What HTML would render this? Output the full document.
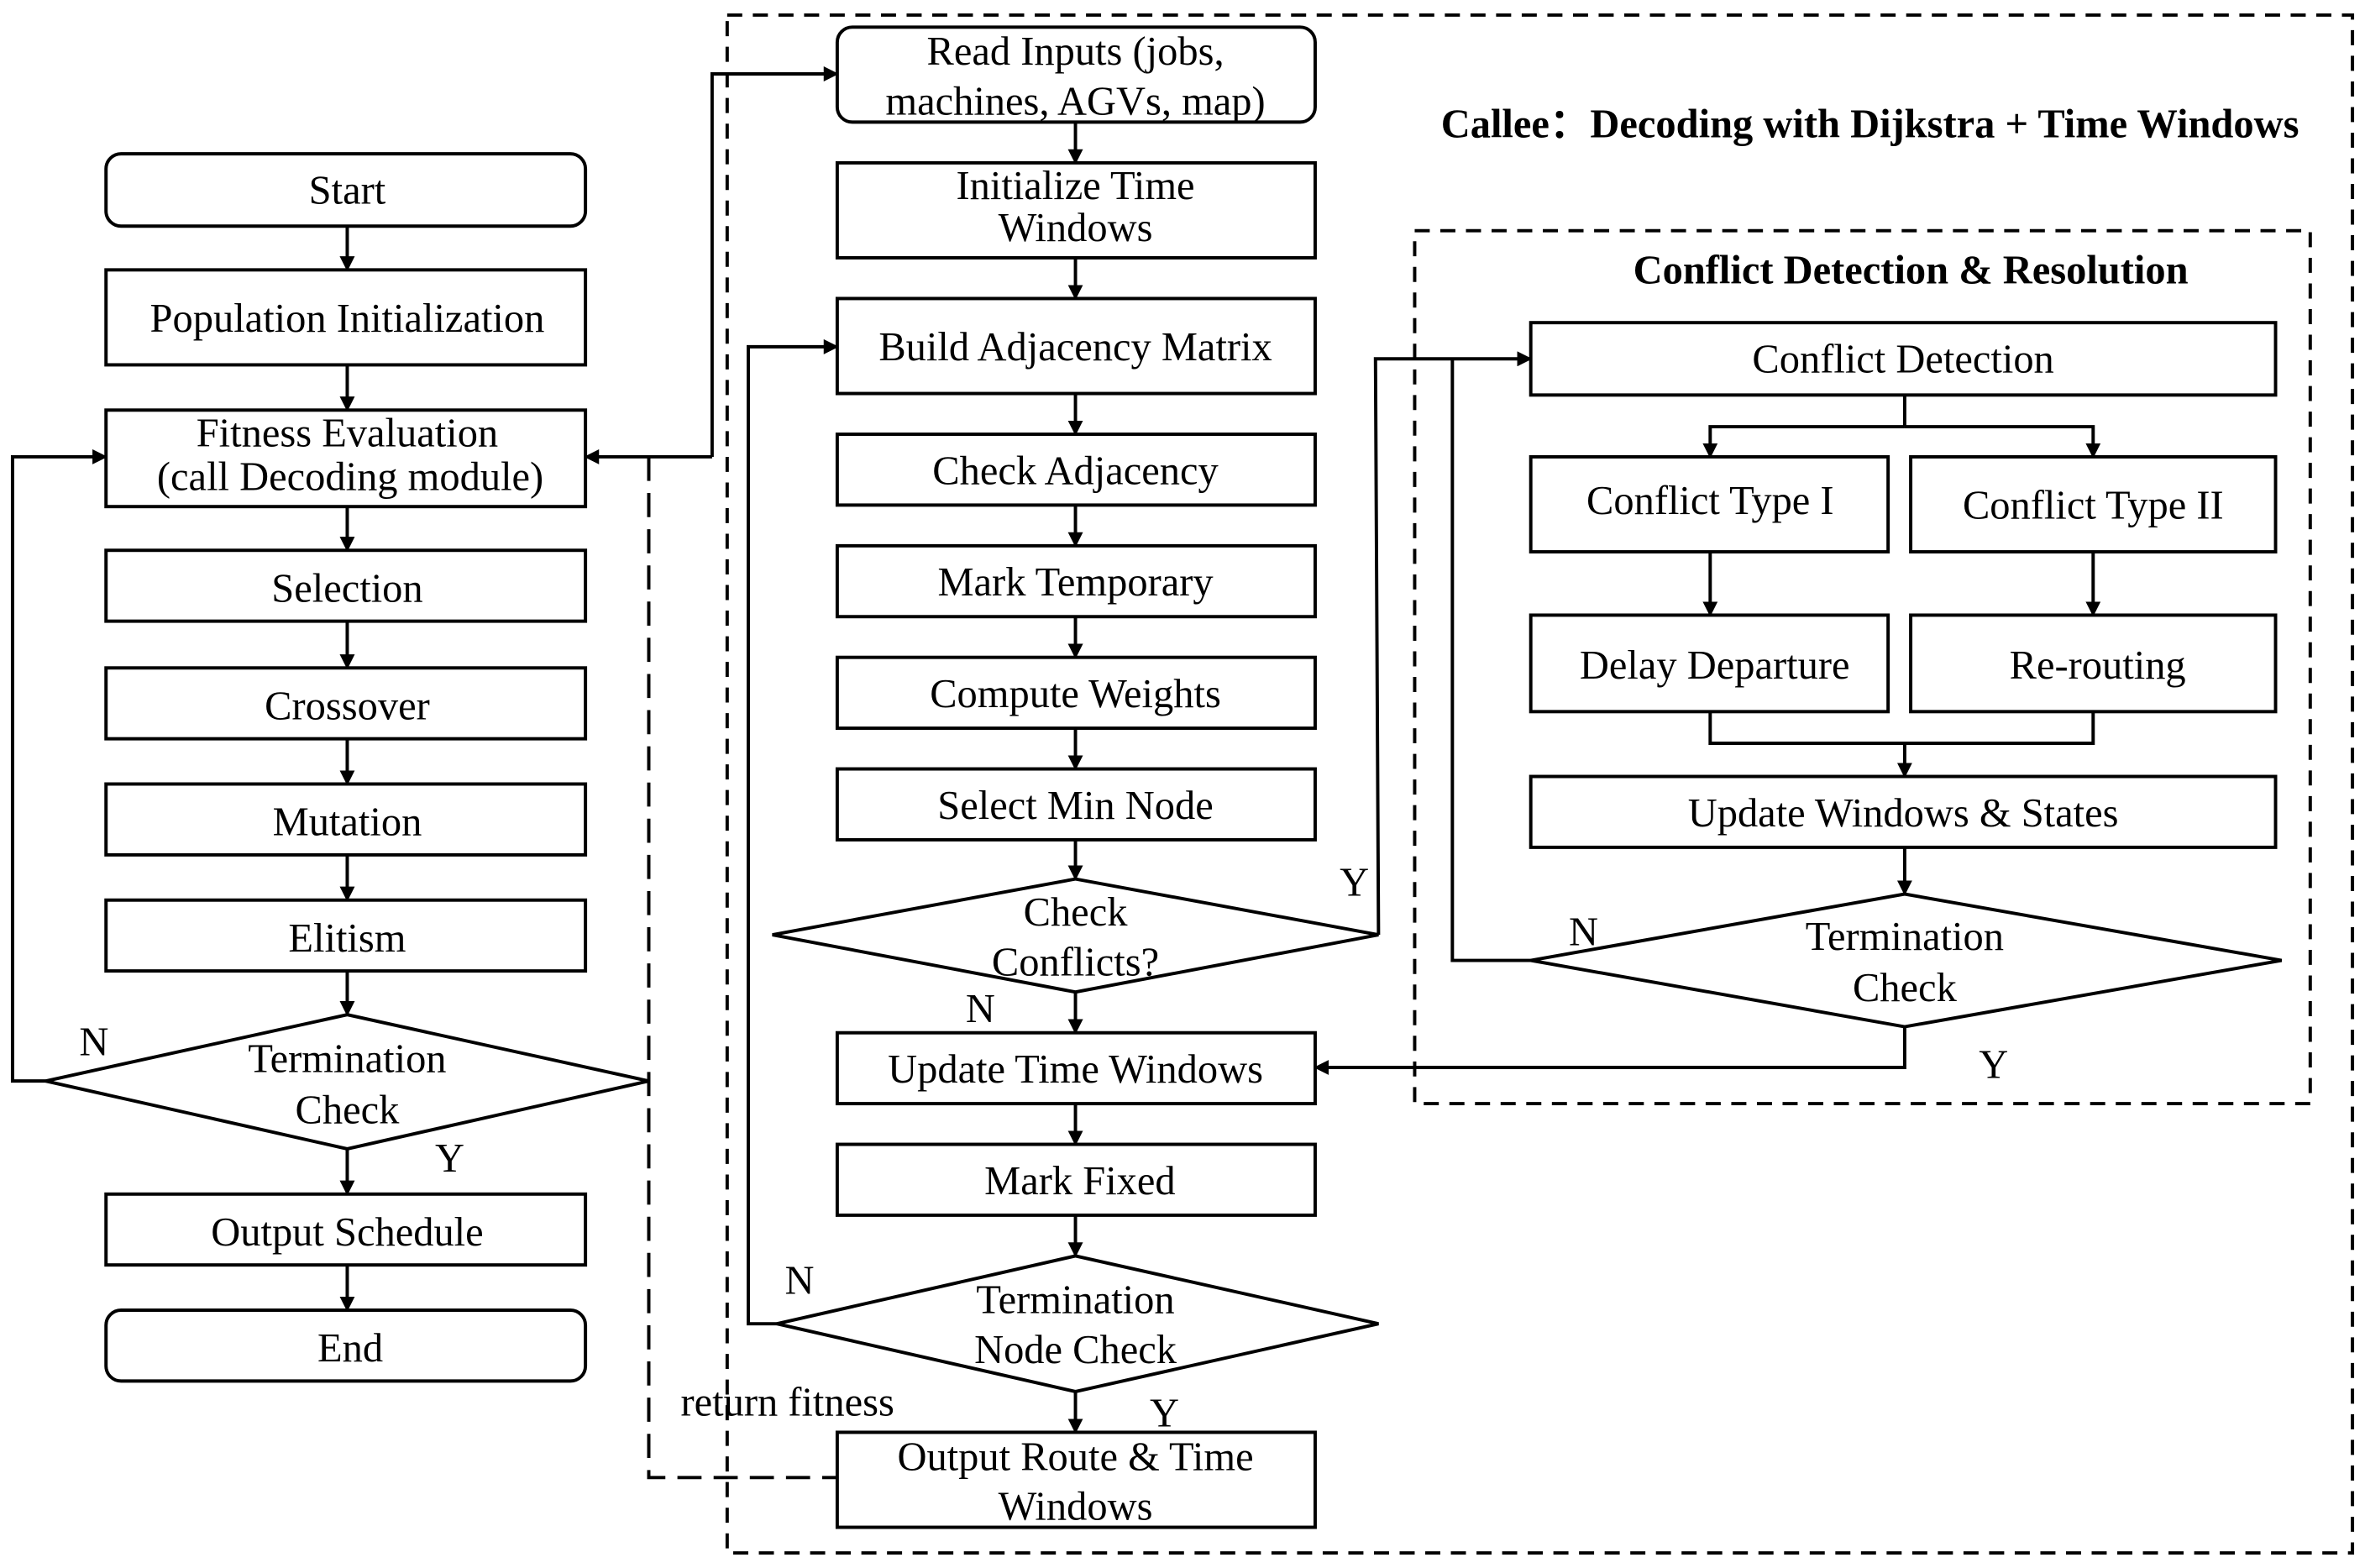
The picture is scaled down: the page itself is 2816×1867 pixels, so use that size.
<!DOCTYPE html>
<html><head><meta charset="utf-8"><style>
html,body{margin:0;padding:0;background:#fff;}
svg{display:block;}
text{font-family:"Liberation Serif","DejaVu Serif",serif;font-size:27px;fill:#000;text-anchor:middle;}
.b{font-weight:bold;font-size:27px;}
</style></head><body>
<svg width="2816" height="1867" viewBox="0 0 1568 1040" xmlns="http://www.w3.org/2000/svg" font-family="Liberation Serif, serif">
<defs><marker id="a" markerWidth="10" markerHeight="10" refX="9" refY="5" orient="auto" markerUnits="userSpaceOnUse"><path d="M0,0 L10,5 L0,10 z" fill="#000"/></marker></defs>
<g fill="none" stroke="#000" stroke-width="2.2">
<rect x="482" y="10" width="1078" height="1020" stroke-dasharray="10,7"/>
<rect x="938" y="153" width="594" height="579" stroke-dasharray="10,7"/>
<rect x="70" y="102" width="318" height="48" rx="10"/>
<rect x="70" y="179" width="318" height="63"/>
<rect x="70" y="272" width="318" height="64"/>
<rect x="70" y="365" width="318" height="47"/>
<rect x="70" y="443" width="318" height="47"/>
<rect x="70" y="520" width="318" height="47"/>
<rect x="70" y="597" width="318" height="47"/>
<polygon points="30,717 230,673 430,717 230,762"/>
<rect x="70" y="792" width="318" height="47"/>
<rect x="70" y="869" width="318" height="47" rx="10"/>
<g marker-end="url(#a)">
<line x1="230" y1="150" x2="230" y2="179"/>
<line x1="230" y1="242" x2="230" y2="272"/>
<line x1="230" y1="336" x2="230" y2="365"/>
<line x1="230" y1="412" x2="230" y2="443"/>
<line x1="230" y1="490" x2="230" y2="520"/>
<line x1="230" y1="567" x2="230" y2="597"/>
<line x1="230" y1="644" x2="230" y2="673"/>
<line x1="230" y1="762" x2="230" y2="792"/>
<line x1="230" y1="839" x2="230" y2="869"/>
<polyline points="30,717 8,717 8,303 70,303"/>
<line x1="472" y1="303" x2="388" y2="303"/>
<polyline points="472,303 472,49 555,49"/>
</g>
<polyline points="430,303 430,980 555,980" stroke-dasharray="16,8"/>
<rect x="555" y="18" width="317" height="63" rx="10"/>
<rect x="555" y="108" width="317" height="63"/>
<rect x="555" y="198" width="317" height="63"/>
<rect x="555" y="288" width="317" height="47"/>
<rect x="555" y="362" width="317" height="47"/>
<rect x="555" y="436" width="317" height="47"/>
<rect x="555" y="510" width="317" height="47"/>
<polygon points="512,620 713,583 914,620 713,658"/>
<rect x="555" y="685" width="317" height="47"/>
<rect x="555" y="759" width="317" height="47"/>
<polygon points="515,878 713,833 914,878 713,923"/>
<rect x="555" y="950" width="317" height="63"/>
<g marker-end="url(#a)">
<line x1="713" y1="81" x2="713" y2="108"/>
<line x1="713" y1="171" x2="713" y2="198"/>
<line x1="713" y1="261" x2="713" y2="288"/>
<line x1="713" y1="335" x2="713" y2="362"/>
<line x1="713" y1="409" x2="713" y2="436"/>
<line x1="713" y1="483" x2="713" y2="510"/>
<line x1="713" y1="557" x2="713" y2="583"/>
<line x1="713" y1="658" x2="713" y2="685"/>
<line x1="713" y1="732" x2="713" y2="759"/>
<line x1="713" y1="806" x2="713" y2="833"/>
<line x1="713" y1="923" x2="713" y2="950"/>
<polyline points="515,878 496,878 496,230 555,230"/>
<polyline points="914,620 912,238 1015,238"/>
</g>
<rect x="1015" y="214" width="494" height="48"/>
<rect x="1015" y="303" width="237" height="63"/>
<rect x="1267" y="303" width="242" height="63"/>
<rect x="1015" y="408" width="237" height="64"/>
<rect x="1267" y="408" width="242" height="64"/>
<rect x="1015" y="515" width="494" height="47"/>
<polygon points="1015,637 1263,593 1513,637 1263,681"/>
<polyline points="1263,262 1263,283"/>
<polyline points="1134,472 1134,493 1388,493 1388,472"/>
<g marker-end="url(#a)">
<polyline points="1263,283 1134,283 1134,303"/>
<polyline points="1263,283 1388,283 1388,303"/>
<line x1="1134" y1="366" x2="1134" y2="408"/>
<line x1="1388" y1="366" x2="1388" y2="408"/>
<line x1="1263" y1="493" x2="1263" y2="515"/>
<line x1="1263" y1="562" x2="1263" y2="593"/>
<polyline points="1263,681 1263,708 872,708"/>
</g>
<polyline points="1015,637 963,637 963,238"/>
</g>
<text x="230" y="135">Start</text>
<text x="230" y="220">Population Initialization</text>
<text x="230" y="296">Fitness Evaluation</text>
<text x="232" y="325">(call Decoding module)</text>
<text x="230" y="399">Selection</text>
<text x="230" y="477">Crossover</text>
<text x="230" y="554">Mutation</text>
<text x="230" y="631">Elitism</text>
<text x="230" y="711">Termination</text>
<text x="230" y="745">Check</text>
<text x="230" y="826">Output Schedule</text>
<text x="232" y="903">End</text>
<text x="62" y="700">N</text>
<text x="298" y="777">Y</text>
<text x="522" y="939">return fitness</text>
<text x="713" y="43">Read Inputs (jobs,</text>
<text x="713" y="76">machines, AGVs, map)</text>
<text x="713" y="132">Initialize Time</text>
<text x="713" y="160">Windows</text>
<text x="713" y="239">Build Adjacency Matrix</text>
<text x="713" y="321">Check Adjacency</text>
<text x="713" y="395">Mark Temporary</text>
<text x="713" y="469">Compute Weights</text>
<text x="713" y="543">Select Min Node</text>
<text x="713" y="614">Check</text>
<text x="713" y="647">Conflicts?</text>
<text x="713" y="718">Update Time Windows</text>
<text x="716" y="792">Mark Fixed</text>
<text x="713" y="871">Termination</text>
<text x="713" y="904">Node Check</text>
<text x="713" y="975">Output Route &amp; Time</text>
<text x="713" y="1008">Windows</text>
<text x="898" y="594">Y</text>
<text x="650" y="678">N</text>
<text x="530" y="858">N</text>
<text x="772" y="946">Y</text>
<text class="b" x="1240" y="91">Callee：Decoding with Dijkstra + Time Windows</text>
<text class="b" x="1267" y="188">Conflict Detection &amp; Resolution</text>
<text x="1262" y="247">Conflict Detection</text>
<text x="1134" y="341">Conflict Type I</text>
<text x="1388" y="344">Conflict Type II</text>
<text x="1137" y="450">Delay Departure</text>
<text x="1391" y="450">Re-routing</text>
<text x="1262" y="548">Update Windows &amp; States</text>
<text x="1263" y="630">Termination</text>
<text x="1263" y="664">Check</text>
<text x="1050" y="627">N</text>
<text x="1322" y="715">Y</text>
</svg>
</body></html>
